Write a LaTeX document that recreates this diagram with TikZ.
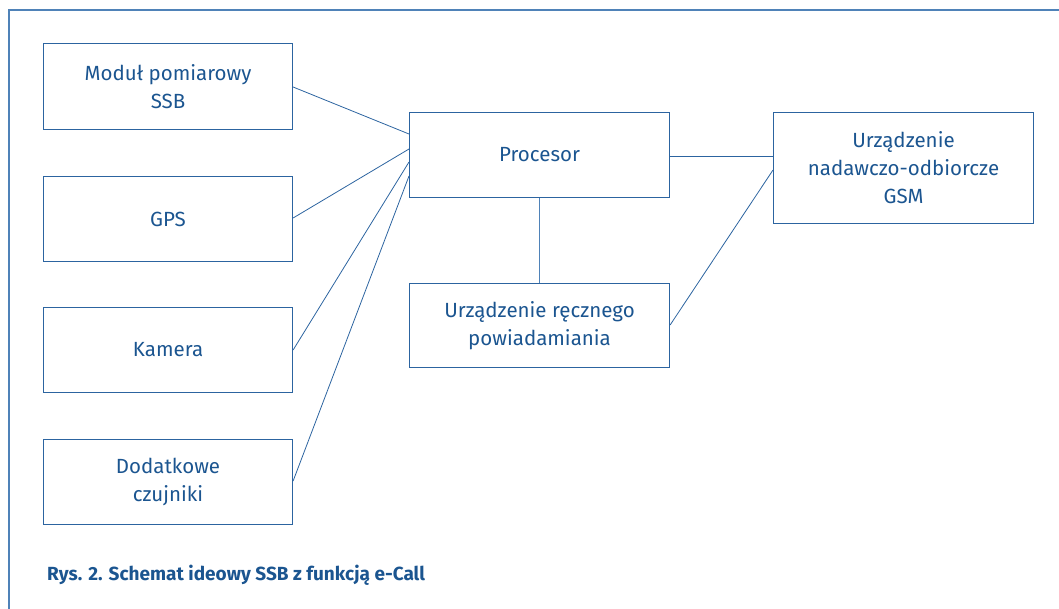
\documentclass[tikz,border=0pt]{standalone}
\usepackage{fontspec}
\setmainfont{Fira Sans}
\definecolor{ssbline}{HTML}{2C64A0}
\definecolor{ssbtext}{HTML}{1B5590}
\definecolor{ssbframe}{HTML}{4F82B8}
\begin{document}
\begin{tikzpicture}[x=1pt,y=-1pt,
  blockbox/.style={draw=ssbline,line width=1.1pt,text=ssbtext,align=center,
    inner sep=0pt,anchor=north west,font=\fontsize{20.5}{28}\selectfont},
  link/.style={draw=ssbline,line width=0.8pt}]
\useasboundingbox (0,0) rectangle (1059,608);
\begin{scope}
\clip (0,0) rectangle (1059,608);
\draw[ssbframe,line width=1.4pt] (9,10) rectangle (1075,625);
\end{scope}
\node[blockbox,minimum width=249pt,minimum height=86pt] (mod) at (43,43) {Moduł pomiarowy\\SSB};
\node[blockbox,minimum width=249pt,minimum height=85pt] (gps) at (43,176) {GPS};
\node[blockbox,minimum width=249pt,minimum height=85pt] (kam) at (43,307) {Kamera};
\node[blockbox,minimum width=249pt,minimum height=85pt] (dod) at (43,439) {Dodatkowe\\czujniki};
\node[blockbox,minimum width=260pt,minimum height=85pt] (proc) at (409,112) {Procesor};
\node[blockbox,minimum width=260pt,minimum height=84pt] (rec) at (409,283) {Urządzenie ręcznego\\powiadamiania};
\node[blockbox,minimum width=260pt,minimum height=111pt] (gsm) at (773,112) {Urządzenie\\nadawczo-odbiorcze\\GSM};
\draw[link] ([yshift=-44pt]mod.north east) -- ([yshift=-22pt]proc.north west);
\draw[link] ([yshift=-42pt]gps.north east) -- ([yshift=-37pt]proc.north west);
\draw[link] ([yshift=-43pt]kam.north east) -- ([yshift=-50pt]proc.north west);
\draw[link] ([yshift=-42pt]dod.north east) -- ([yshift=-64pt]proc.north west);
\draw[link] ([yshift=-44pt]proc.north east) -- ([yshift=-44pt]gsm.north west);
\draw[link,ssbframe] (proc.south) -- (rec.north);
\draw[link] ([yshift=-42pt]rec.north east) -- ([yshift=-58pt]gsm.north west);
\node[anchor=west,text=ssbtext,font=\bfseries\fontsize{19}{22}\selectfont,inner sep=0pt] (cap) at (47,575) {Rys. 2. Schemat ideowy SSB z funkcją e-Call};
\end{tikzpicture}
\end{document}
